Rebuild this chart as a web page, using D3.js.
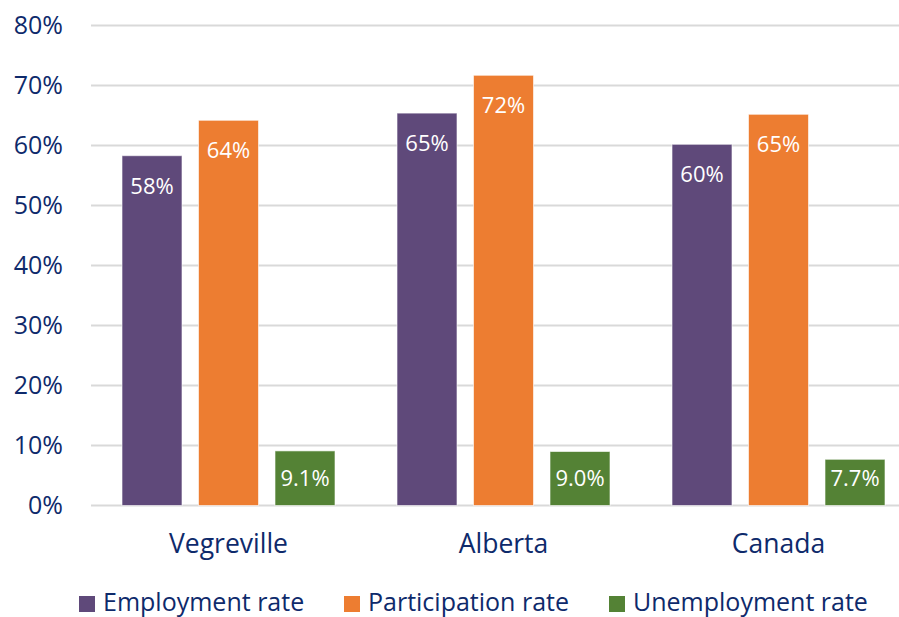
<!DOCTYPE html>
<html lang="en">
<head>
<meta charset="utf-8">
<title>Labour force rates</title>
<script src="https://d3js.org/d3.v7.min.js"></script>
<style>
  body { margin: 0; background: #fff; }
  text { font-family: "Open Sans", "Noto Sans", sans-serif; }
</style>
</head>
<body>
<script>
// data
var places = ["Vegreville", "Alberta", "Canada"];
var series = ["Employment rate", "Participation rate", "Unemployment rate"];
var employment = [58.3, 65.4, 60.2];
var participation = [64.2, 71.7, 65.2];
var unemployment = [9.1, 9.0, 7.7];
var labels = [["58%", "64%", "9.1%"], ["65%", "72%", "9.0%"], ["60%", "65%", "7.7%"]];
var yTicks = [0, 10, 20, 30, 40, 50, 60, 70, 80];
var colors = ["#5f497a", "#ed7d31", "#548235"];

var w = 899, h = 617;
var textColor = "#0e2a6b";

var svg = d3.select("body").append("svg")
  .attr("width", w)
  .attr("height", h);

var yScale = d3.scaleLinear().domain([0, 80]).range([505.5, 25.5]);
var xScale = d3.scaleBand().domain(places).range([91, 916]);
var xInner = d3.scaleBand().domain(series).range([31, 244]).paddingInner(0.2157);

// gridlines
svg.append("g")
  .selectAll("line")
  .data(yTicks)
  .enter()
  .append("line")
  .attr("x1", 91)
  .attr("x2", w)
  .attr("y1", d => yScale(d))
  .attr("y2", d => yScale(d))
  .attr("stroke", "#d9d9d9")
  .attr("stroke-width", 2);

// y axis labels
var yAxis = d3.axisLeft(yScale)
  .tickValues(yTicks)
  .tickFormat(d => d + "%")
  .tickSize(0)
  .tickPadding(0);

var yg = svg.append("g")
  .attr("transform", "translate(63,0)")
  .call(yAxis);
yg.select(".domain").remove();
yg.selectAll("text")
  .attr("fill", textColor)
  .style("font-size", "25px")
  .style("font-family", "'Open Sans', sans-serif");

// x axis labels
var xAxis = d3.axisBottom(xScale).tickSize(0).tickPadding(0);
var xg = svg.append("g")
  .attr("transform", "translate(0,534)")
  .call(xAxis);
xg.select(".domain").remove();
xg.selectAll("text")
  .attr("fill", textColor)
  .style("font-size", "26.5px")
  .style("font-family", "'Open Sans', sans-serif");

// rows
var rows = places.map(function (p, i) {
  return [
    { place: p, s: series[0], v: employment[i], label: labels[i][0], c: 0 },
    { place: p, s: series[1], v: participation[i], label: labels[i][1], c: 1 },
    { place: p, s: series[2], v: unemployment[i], label: labels[i][2], c: 2 }
  ];
});

var groups = svg.selectAll("g.place")
  .data(rows)
  .enter()
  .append("g")
  .attr("class", "place")
  .attr("transform", (d, i) => "translate(" + xScale(places[i]) + ",0)");

groups.selectAll("rect")
  .data(d => d)
  .enter()
  .append("rect")
  .attr("x", d => xInner(d.s))
  .attr("width", xInner.bandwidth())
  .attr("y", d => yScale(d.v))
  .attr("height", d => yScale(0) - yScale(d.v))
  .attr("fill", d => colors[d.c])
  .attr("stroke", "#ffffff")
  .attr("stroke-opacity", 0.6)
  .attr("stroke-width", 1);

// labels sit near the top, but never below the baseline band
groups.selectAll("text.val")
  .data(d => d)
  .enter()
  .append("text")
  .attr("class", "val")
  .attr("x", d => xInner(d.s) + xInner.bandwidth() / 2)
  .attr("y", d => Math.min(yScale(d.v) + 38, yScale(0) - 19.5))
  .attr("text-anchor", "middle")
  .attr("fill", "#ffffff")
  .style("font-size", "22px")
  .text(d => d.label);

// legend
var legendX = [79, 344, 609];
var legend = svg.selectAll("g.legend")
  .data(series)
  .enter()
  .append("g")
  .attr("class", "legend")
  .attr("transform", (d, i) => "translate(" + legendX[i] + ",596)");

legend.append("rect")
  .attr("width", 16)
  .attr("height", 16)
  .attr("fill", (d, i) => colors[i]);

legend.append("text")
  .attr("x", 24)
  .attr("y", 15)
  .attr("fill", textColor)
  .style("font-size", "25px")
  .text(d => d);
</script>
</body>
</html>
